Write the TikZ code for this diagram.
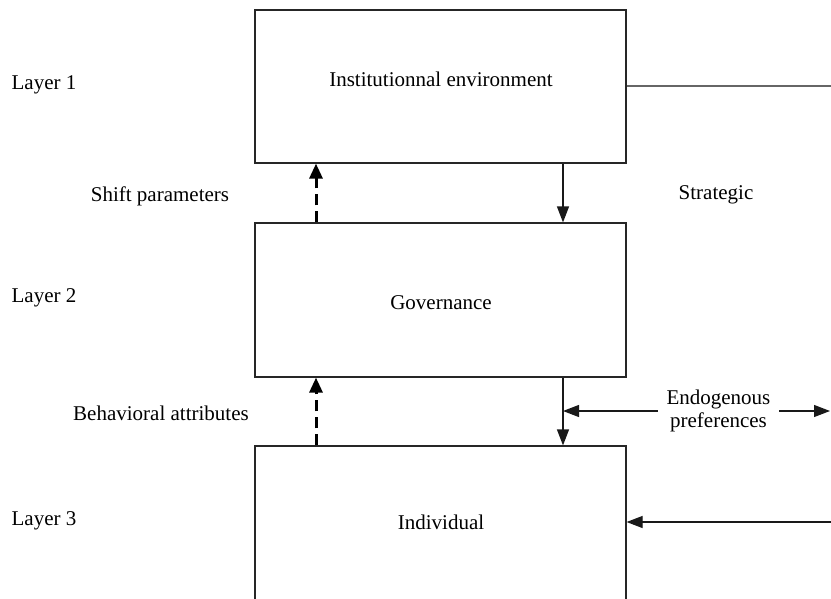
\documentclass[tikz,border=0pt]{standalone}
\usepackage{fontspec}
\setmainfont{Liberation Serif}
\usetikzlibrary{arrows.meta}

\begin{document}
\begin{tikzpicture}[x=1pt, y=-1pt, line width=1.2pt,
  every node/.style = {font=\fontsize{21}{23}\selectfont, inner sep=0pt},
  layerbox/.style = {draw=black!85, minimum width=371pt},
  solidarrow/.style = {-{Triangle[length=16pt,width=12pt]}, draw=black!90},
  dasharrow/.style = {-{Triangle[length=15pt,width=13pt]}, line width=3pt, dash pattern=on 11pt off 6pt}]
  \useasboundingbox (0,0) rectangle (831,598);
  \clip (0,0) rectangle (831,598);
  % boxes
  \node[layerbox, minimum height=153pt] (box1) at (440.5,86.5) {};
  \node[layerbox, minimum height=154pt] (box2) at (440.5,300) {};
  \node[layerbox, minimum height=214pt] (box3) at (440.5,553) {};
  \node (inst) at (441,79) {Institutionnal environment};
  \node (gov) at (441,303) {Governance};
  \node (ind) at (441,522) {Individual};
  % side labels
  \node (l1) at (44,85) {Layer 1};
  \node (l2) at (44,298) {Layer 2};
  \node (l3) at (44,521) {Layer 3};
  \node (shift) at (160,196) {Shift parameters};
  \node (behav) at (161,413) {Behavioral attributes};
  \node (strat) at (716,195) {Strategic};
  \node[align=center, inner sep=8pt] (endo) at (718.5,411) {Endogenous\\preferences};
  % arrows
  \coordinate (dl) at (316,0);
  \coordinate (dr) at (563,0);
  \coordinate (er) at (830,0);
  \coordinate (r1) at (831,86);
  \coordinate (r3) at (831,522);
  \draw[dasharrow] (dl |- box2.north) -- (dl |- box1.south);
  \draw[dasharrow] (dl |- box3.north) -- (dl |- box2.south);
  \draw[solidarrow] (dr |- box1.south) -- (dr |- box2.north);
  \draw[solidarrow] (dr |- box2.south) -- (dr |- box3.north);
  \draw[black!60] (r1 -| box1.east) -- (r1);
  \draw[solidarrow] (endo.west) -- (endo.west -| dr);
  \draw[solidarrow] (endo.east) -- (endo.east -| er);
  \draw[solidarrow] (r3) -- (r3 -| box3.east);
\end{tikzpicture}
\end{document}
